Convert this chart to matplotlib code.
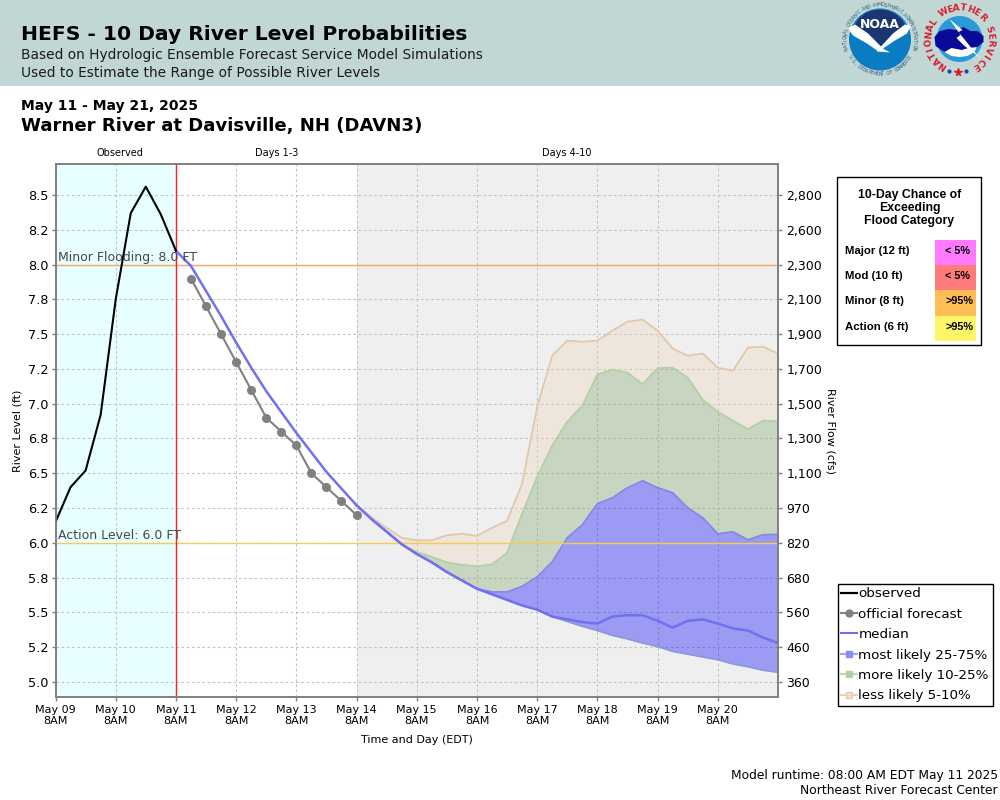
import numpy as np
import pandas as pd
import matplotlib
matplotlib.use('Agg')
import matplotlib.pyplot as plt
from matplotlib.lines import Line2D
from matplotlib.patches import Rectangle, Circle, Polygon

# Datos (nivel del rio en pies)
observed = [6.15, 6.40, 6.52, 6.92, 7.75, 8.37, 8.56, 8.36, 8.10]
official = [7.90, 7.70, 7.50, 7.30, 7.10, 6.90, 6.80, 6.70, 6.50, 6.40, 6.30, 6.20]
median = [8.10, 7.99, 7.81, 7.63, 7.44, 7.26, 7.09, 6.94, 6.79, 6.65, 6.51, 6.39,
          6.27, 6.17, 6.08, 5.99, 5.92, 5.86, 5.79, 5.73, 5.67, 5.63, 5.59, 5.55,
          5.52, 5.47, 5.45, 5.43, 5.42, 5.47, 5.48, 5.48, 5.44, 5.39, 5.44, 5.45,
          5.42, 5.385, 5.37, 5.32, 5.28]
low = [6.27, 6.17, 6.08, 5.99, 5.92, 5.86, 5.79, 5.73, 5.67, 5.63, 5.59, 5.55,
       5.52, 5.47, 5.435, 5.40, 5.37, 5.335, 5.31, 5.28, 5.255, 5.22, 5.20, 5.18,
       5.16, 5.13, 5.11, 5.085, 5.07]
p75 = [6.27, 6.17, 6.08, 5.99, 5.92, 5.86, 5.79, 5.73, 5.67, 5.647, 5.647, 5.687,
       5.755, 5.863, 6.036, 6.129, 6.281, 6.324, 6.396, 6.446, 6.396, 6.36, 6.252,
       6.18, 6.065, 6.079, 6.022, 6.058, 6.061]
p90 = [6.27, 6.17, 6.08, 5.986, 5.935, 5.899, 5.86, 5.842, 5.831, 5.845, 5.928, 6.209,
       6.475, 6.698, 6.871, 6.986, 7.209, 7.245, 7.223, 7.14, 7.255, 7.259, 7.187,
       7.029, 6.942, 6.878, 6.817, 6.878, 6.874]
p95 = [6.273, 6.183, 6.108, 6.036, 6.018, 6.018, 6.054, 6.065, 6.05, 6.108, 6.158, 6.424,
       6.978, 7.345, 7.453, 7.446, 7.453, 7.525, 7.59, 7.604, 7.525, 7.396, 7.345,
       7.36, 7.259, 7.237, 7.403, 7.41, 7.36]

level_labels = ['5.0', '5.2', '5.5', '5.8', '6.0', '6.2', '6.5', '6.8', '7.0', '7.2', '7.5', '7.8', '8.0', '8.2', '8.5']
flow_labels = ['360', '460', '560', '680', '820', '970', '1,100', '1,300', '1,500', '1,700', '1,900', '2,100', '2,300', '2,600', '2,800']
day_labels = ['May 09', 'May 10', 'May 11', 'May 12', 'May 13', 'May 14', 'May 15', 'May 16', 'May 17', 'May 18', 'May 19', 'May 20']

categories = ['Major (12 ft)', 'Mod (10 ft)', 'Minor (8 ft)', 'Action (6 ft)']
chances = ['< 5%', '< 5%', '>95%', '>95%']
chance_colors = ['#ff7aff', '#ff7a7a', '#ffbe55', '#fff569']

# Ejes de tiempo
t_obs = pd.date_range('2025-05-09 08:00', periods=len(observed), freq='6h')
t_off = pd.date_range('2025-05-11 14:00', periods=len(official), freq='6h')
t_med = pd.date_range('2025-05-11 08:00', periods=len(median), freq='6h')
t_band = pd.date_range('2025-05-14 08:00', periods=len(low), freq='6h')
t_days = pd.date_range('2025-05-09 08:00', periods=len(day_labels), freq='24h')
t_end = pd.Timestamp('2025-05-21 08:00')

BLUE = '#0000ff'
GREEN = '#80a86c'
TAN = '#edd6b9'
MEDIAN = '#7070f0'
GRAY = '#808080'

fig = plt.figure(figsize=(10, 8), dpi=100)
ax = fig.add_axes([0.0555, 1 - 697 / 800, 0.7225, 533 / 800])

# Fondos
ax.axvspan(t_days[0], t_days[2], color='#e8ffff', lw=0, zorder=0)
ax.axvspan(t_days[5], t_end, color='#efefef', lw=0, zorder=0)

ax.set_xlim(t_days[0], t_end)
ax.set_ylim(4.892, 8.723)
level_ticks = 5 + 0.25 * np.arange(len(level_labels))
ax.set_yticks(level_ticks)
ax.set_yticklabels(level_labels, fontsize=9.3)
ax.set_xticks(t_days)
ax.set_xticklabels([d + '\n8AM' for d in day_labels], fontsize=8, linespacing=1.05)
ax.tick_params(axis='both', color=GRAY, length=3, width=1, pad=3)
ax.tick_params(axis='y', pad=2)
ax.grid(True, color='#c0c0c0', linestyle=(0, (2.5, 2.5)), linewidth=0.75, zorder=1)
ax.set_axisbelow(True)

# Bandas
ax.fill_between(t_band, p90, p95, color=TAN, alpha=0.35, lw=0, zorder=2)
ax.fill_between(t_band, p75, p90, color=GREEN, alpha=0.35, lw=0, zorder=2)
ax.fill_between(t_band, low, p75, color=BLUE, alpha=0.35, lw=0, zorder=2)
ax.plot(t_band, p95, color='#e2c8aa', lw=1.3, zorder=3)
ax.plot(t_band, p90, color='#b4cfa0', lw=1.3, zorder=3)
ax.plot(t_band, p75, color='#8585ea', lw=1.3, zorder=3)
ax.plot(t_band, low, color='#8a9ad8', lw=1.3, zorder=3)

# Niveles de inundacion
ax.axhline(8.0, color='#eeaa60', lw=1, zorder=4)
ax.axhline(6.0, color='#f5cc50', lw=1, zorder=4)
ax.axvline(t_days[2], color='#ff2020', lw=1, zorder=4)

ax.plot(t_med, median, color=MEDIAN, lw=1.8, zorder=5)
ax.plot(t_off, official, color=GRAY, lw=1.5, marker='o', ms=5.5, zorder=6)
ax.plot(t_obs, observed, color='k', lw=1.5, zorder=7)

ax.text(t_days[0] + pd.Timedelta(hours=1), 8.005, 'Minor Flooding: 8.0 FT', fontsize=9, color='#464646', va='bottom', zorder=8)
ax.text(t_days[0] + pd.Timedelta(hours=1), 6.005, 'Action Level: 6.0 FT', fontsize=9, color='#464646', va='bottom', zorder=8)

for s in ax.spines.values():
    s.set_color(GRAY)
    s.set_linewidth(1.2)

ax.set_ylabel('River Level (ft)', fontsize=8, labelpad=4)

ax2 = ax.twinx()
ax2.set_ylim(ax.get_ylim())
ax2.set_yticks(level_ticks)
ax2.set_yticklabels(flow_labels, fontsize=9)
ax2.tick_params(axis='y', color=GRAY, length=3, width=1, pad=3)
for s in ax2.spines.values():
    s.set_color(GRAY)
    s.set_linewidth(1.2)

# Capa en pixeles para encabezado, logos, recuadros
ov = fig.add_axes([0, 0, 1, 1], zorder=10)
ov.set_xlim(0, 1000)
ov.set_ylim(800, 0)
ov.axis('off')
ov.patch.set_alpha(0)

ov.add_patch(Rectangle((0, 0), 1000, 86, color='#c1d7d5', lw=0, zorder=0))
ov.text(21, 39.5, 'HEFS - 10 Day River Level Probabilities', fontsize=14.6, fontweight='bold', va='baseline')
ov.text(21, 58.5, 'Based on Hydrologic Ensemble Forecast Service Model Simulations', fontsize=9.95, color='#1a1a1a', va='baseline')
ov.text(21, 77.5, 'Used to Estimate the Range of Possible River Levels', fontsize=9.95, color='#1a1a1a', va='baseline')
ov.text(21, 110, 'May 11 - May 21, 2025', fontsize=10, fontweight='bold', va='baseline')
ov.text(21, 131, 'Warner River at Davisville, NH (DAVN3)', fontsize=13.1, fontweight='bold', va='baseline')

ov.text(120, 153, 'Observed', fontsize=7, ha='center', va='center')
ov.text(276.5, 153, 'Days 1-3', fontsize=7, ha='center', va='center')
ov.text(567, 153, 'Days 4-10', fontsize=7, ha='center', va='center')
ov.text(417, 740, 'Time and Day (EDT)', fontsize=8, ha='center', va='center')
ov.text(831, 431, 'River Flow (cfs)', fontsize=8, rotation=270, ha='center', va='center')
ov.text(998, 775, 'Model runtime: 08:00 AM EDT May 11 2025', fontsize=8.8, ha='right', va='center')
ov.text(998, 791, 'Northeast River Forecast Center', fontsize=8.8, ha='right', va='center')


def arc_text(text, cx, cy, r, a0, a1, size, color, bottom=False, weight='normal'):
    angles = np.linspace(a0, a1, len(text))
    for ch, a in zip(text, angles):
        rad = np.deg2rad(a)
        rot = 180 - a if bottom else -a
        ov.text(cx + r * np.sin(rad), cy - r * np.cos(rad), ch, fontsize=size, color=color,
                rotation=rot, ha='center', va='center', fontweight=weight)


def shape(cx, cy, pts, color):
    ov.add_patch(Polygon([(cx + px, cy + py) for px, py in pts], color=color, lw=0))


# Logo NOAA
nx, ny = 880, 39.5
ov.add_patch(Circle((nx, ny), 31, color='#0a7cc4', lw=0))
shape(nx, ny, [(-25, -15), (-21, -21), (-15, -26), (-8, -29), (0, -30), (8, -29), (15, -26), (21, -21), (25, -15),
               (13, -6), (1, 7), (-12, -6)], '#1d3570')
shape(nx, ny, [(-32, -11), (-25, -15), (-12, -6), (1, 7), (13, -6), (25, -15), (31, -14), (27, -6), (15, 1), (3, 9),
               (10, 13), (-3, 12), (-3, 11), (-13, 4), (-27, -4)], 'w')
ov.text(nx, ny - 15, 'NOAA', fontsize=9, color='w', fontweight='bold', ha='center', va='center')
arc_text('NATIONAL OCEANIC AND ATMOSPHERIC ADMINISTRATION', nx, ny, 34.5, -105, 105, 3.4, '#3a5a78')
arc_text('U.S. DEPARTMENT OF COMMERCE', nx, ny, 34.5, 240, 120, 3.4, '#3a5a78', bottom=True)

# Logo NWS
wx, wy = 959.5, 39
ov.add_patch(Circle((wx, wy), 23, color='#2a9ad8', lw=0))
shape(wx, wy, [(-18, 6), (18, 6), (15, 13), (8, 17), (0, 18), (-8, 17), (-15, 13)], 'w')
shape(wx, wy, [(-25, -2), (-20, -8), (-11, -10), (-3, -9), (4, -12), (11, -8), (18, -8), (24, -3), (24, 3), (18, 8),
               (9, 9), (2, 11), (-8, 9), (-15, 13), (-24, 7)], '#0a0a96')
shape(wx, wy, [(-10, -20), (3, -9), (-1, -7), (16, 14), (21, 19), (5, 7), (-3, -1), (1, -4)], 'w')
arc_text('NATIONAL WEATHER SERVICE', wx, wy, 31, -147, 149, 6.5, '#d81e2c', weight='bold')
ov.plot([wx - 10.5, wx + 6.5], [wy + 32, wy + 32], ls='none', marker='o', ms=2, color='#2840a8')
ov.plot([wx - 1.5], [wy + 33], ls='none', marker='*', ms=5.5, color='#d81e2c')

# Recuadro de probabilidad de inundacion
ov.add_patch(Rectangle((836.5, 176.5), 144, 168.5, fc='w', ec='k', lw=1))
ov.text(909.5, 208, '10-Day Chance of\nExceeding\nFlood Category', fontsize=8.8, fontweight='bold', family='Liberation Sans',
        ha='center', va='center', linespacing=1.1)
for i in range(len(categories)):
    row_y = 240 + 25.2 * i
    ov.add_patch(Rectangle((935, row_y), 41, 25.2, color=chance_colors[i], lw=0))
    ov.text(845, row_y + 11, categories[i], fontsize=8.2, fontweight='bold', family='Liberation Sans', va='center')
    ov.text(945, row_y + 11, chances[i], fontsize=7.8, fontweight='bold', family='Liberation Sans', va='center')

# Leyenda
handles = [
    Line2D([], [], color='k', lw=1.6),
    Line2D([], [], color=GRAY, lw=1.5, marker='o', ms=5),
    Line2D([], [], color=MEDIAN, lw=1.5),
    Line2D([], [], color='#a5a5f8', lw=1.5, marker='s', ms=5, mfc='#8c8cf5', mec='#8c8cf5'),
    Line2D([], [], color='#bcd8ac', lw=1.5, marker='s', ms=5, mfc='#b4d0a4', mec='#b4d0a4'),
    Line2D([], [], color='#e8d2bc', lw=1.5, marker='s', ms=5, mfc='#efe2d2', mec='#e2cdb6'),
]
names = ['observed', 'official forecast', 'median', 'most likely 25-75%', 'more likely 10-25%', 'less likely 5-10%']
leg = fig.legend(handles, names, loc='upper left', bbox_to_anchor=(0.8375, 1 - 583.5 / 800), borderaxespad=0,
                 fontsize=9.7, frameon=True, fancybox=False, framealpha=1, edgecolor='k',
                 handlelength=1.15, handletextpad=0.12, labelspacing=0.55, borderpad=0.28)
leg.get_frame().set_linewidth(1)
leg.set_zorder(20)

plt.savefig('out.png', dpi=100)
